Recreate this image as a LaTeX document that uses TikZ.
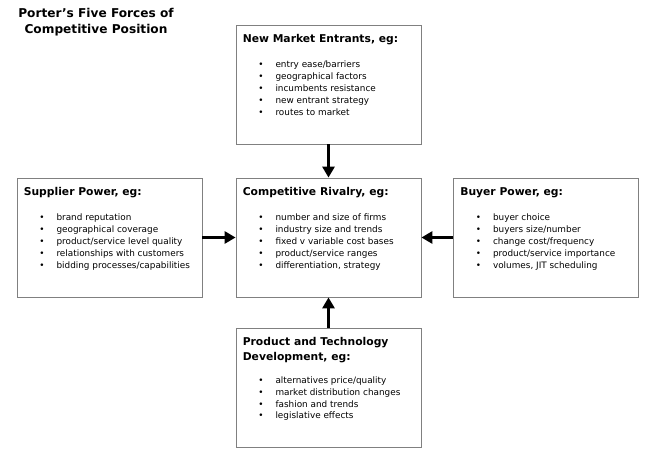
\documentclass[tikz,border=0pt]{standalone}
\usepackage{fontspec}
\setmainfont{DejaVu Sans}
\usepackage{tikz}
\usetikzlibrary{arrows.meta}

\tikzset{
  box/.style={draw=black!50, line width=0.8bp, minimum width=185bp, minimum height=119bp, inner sep=0pt},
  head/.style={anchor=base west, inner sep=0pt, font=\bfseries\fontsize{10.8}{15}\selectfont},
  items/.style={anchor=base west, inner sep=0pt, font=\fontsize{8.9}{12}\selectfont},
  force/.style={line width=3bp, -{Triangle[length=11bp,width=12bp]}}
}

\begin{document}
\begin{tikzpicture}[x=1bp,y=-1bp]
      \useasboundingbox (0,0) rectangle (650,458);

      \node[font=\bfseries\fontsize{12.2}{16}\selectfont, align=center, inner sep=0pt, anchor=north]
        (title) at (96,8) {Porter’s Five Forces of\\Competitive Position};

      \node[box] (entrants)   at (328.5,84.5)  {};
      \node[box] (supplier)   at (109.5,237.5) {};
      \node[box] (rivalry)    at (328.5,237.5) {};
      \node[box] (buyer)      at (546,237.5)   {};
      \node[box] (technology) at (328.5,388)   {};

      \node[head] (entrants-head) at ([xshift=7bp,yshift=-18bp]entrants.north west) {New Market Entrants, eg:};
      \node[items] (entrants-list) at ([xshift=22.5bp,yshift=-43bp]entrants.north west) {%
        \begin{tabular}[t]{@{}l@{\hspace{12bp}}l@{}}
          \textbullet & entry ease/barriers\\
          \textbullet & geographical factors\\
          \textbullet & incumbents resistance\\
          \textbullet & new entrant strategy\\
          \textbullet & routes to market
        \end{tabular}};

      \node[head] (supplier-head) at ([xshift=7bp,yshift=-18bp]supplier.north west) {Supplier Power, eg:};
      \node[items] (supplier-list) at ([xshift=22.5bp,yshift=-43bp]supplier.north west) {%
        \begin{tabular}[t]{@{}l@{\hspace{12bp}}l@{}}
          \textbullet & brand reputation\\
          \textbullet & geographical coverage\\
          \textbullet & product/service level quality\\
          \textbullet & relationships with customers\\
          \textbullet & bidding processes/capabilities
        \end{tabular}};

      \node[head] (rivalry-head) at ([xshift=7bp,yshift=-18bp]rivalry.north west) {Competitive Rivalry, eg:};
      \node[items] (rivalry-list) at ([xshift=22.5bp,yshift=-43bp]rivalry.north west) {%
        \begin{tabular}[t]{@{}l@{\hspace{12bp}}l@{}}
          \textbullet & number and size of firms\\
          \textbullet & industry size and trends\\
          \textbullet & fixed v variable cost bases\\
          \textbullet & product/service ranges\\
          \textbullet & differentiation, strategy
        \end{tabular}};

      \node[head] (buyer-head) at ([xshift=7bp,yshift=-18bp]buyer.north west) {Buyer Power, eg:};
      \node[items] (buyer-list) at ([xshift=22.5bp,yshift=-43bp]buyer.north west) {%
        \begin{tabular}[t]{@{}l@{\hspace{12bp}}l@{}}
          \textbullet & buyer choice\\
          \textbullet & buyers size/number\\
          \textbullet & change cost/frequency\\
          \textbullet & product/service importance\\
          \textbullet & volumes, JIT scheduling
        \end{tabular}};

      \node[head] (technology-head) at ([xshift=7bp,yshift=-17bp]technology.north west) {%
        \begin{tabular}[t]{@{}l@{}}
          Product and Technology\\
          Development, eg:
        \end{tabular}};
      \node[items] (technology-list) at ([xshift=22.5bp,yshift=-55bp]technology.north west) {%
        \begin{tabular}[t]{@{}l@{\hspace{12bp}}l@{}}
          \textbullet & alternatives price/quality\\
          \textbullet & market distribution changes\\
          \textbullet & fashion and trends\\
          \textbullet & legislative effects
        \end{tabular}};

      \draw[force] (entrants)   -- (rivalry);
      \draw[force] (supplier)   -- (rivalry);
      \draw[force] (buyer)      -- (rivalry);
      \draw[force] (technology) -- (rivalry);
    \end{tikzpicture}
\end{document}
